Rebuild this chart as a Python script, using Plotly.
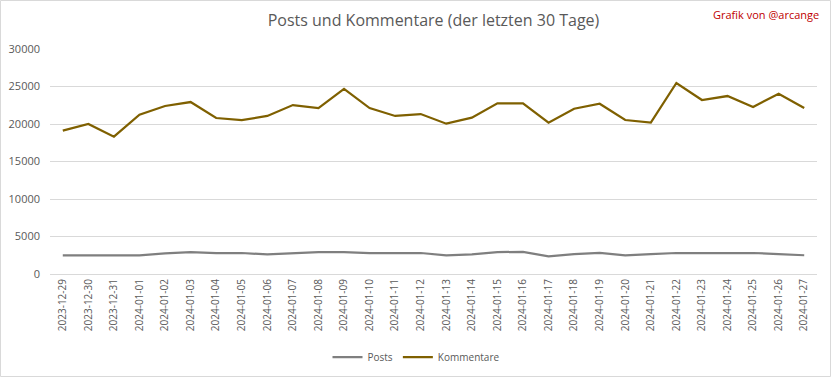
import plotly.graph_objects as go

dates = ["2023-12-29", "2023-12-30", "2023-12-31", "2024-01-01", "2024-01-02", "2024-01-03",
         "2024-01-04", "2024-01-05", "2024-01-06", "2024-01-07", "2024-01-08", "2024-01-09",
         "2024-01-10", "2024-01-11", "2024-01-12", "2024-01-13", "2024-01-14", "2024-01-15",
         "2024-01-16", "2024-01-17", "2024-01-18", "2024-01-19", "2024-01-20", "2024-01-21",
         "2024-01-22", "2024-01-23", "2024-01-24", "2024-01-25", "2024-01-26", "2024-01-27"]

posts = [2500, 2500, 2500, 2500, 2750, 2920, 2800, 2800, 2620, 2800, 2920, 2920,
         2800, 2800, 2800, 2500, 2620, 2920, 2950, 2350, 2650, 2800, 2500, 2650,
         2800, 2800, 2800, 2800, 2650, 2500]

kommentare = [19110, 20000, 18310, 21240, 22400, 22930, 20800, 20530, 21070, 22530,
              22130, 24670, 22130, 21070, 21330, 20040, 20840, 22750, 22750, 20180,
              22040, 22710, 20530, 20180, 25470, 23200, 23730, 22270, 24040, 22130]

y_ticks = [0, 5000, 10000, 15000, 20000, 25000, 30000]

FONT = "Open Sans, Liberation Sans, sans-serif"
TXT = "#595959"

W, H = 832, 378
L, R, T, B = 50, 15, 49, 104
PW, PH = W - L - R, H - T - B

fig = go.Figure()
fig.add_trace(go.Scatter(x=dates, y=posts, name="Posts", mode="lines",
                         line=dict(color="#7F7F7F", width=2.25)))
fig.add_trace(go.Scatter(x=dates, y=kommentare, name="Kommentare", mode="lines",
                         line=dict(color="#7F6000", width=2.25)))

fig.update_layout(
    width=W, height=H,
    margin=dict(l=L, r=R, t=T, b=B, autoexpand=False),
    paper_bgcolor="white", plot_bgcolor="white",
    font=dict(family=FONT, color=TXT, size=11),
    title=dict(text="Posts und Kommentare (der letzten 30 Tage)", x=0.5, xanchor="center",
               y=1 - 20 / H, yanchor="middle", xref="paper", automargin=False,
               font=dict(family=FONT, size=16, color=TXT)),
    showlegend=True,
    legend=dict(orientation="h", xref="container", x=0.5, xanchor="center",
                y=-(357 - 274) / PH, yanchor="middle",
                font=dict(size=10, color=TXT), itemwidth=30, bgcolor="rgba(0,0,0,0)"),
    xaxis=dict(type="category", range=[-0.5, len(dates) - 0.5], tickangle=-90,
               showgrid=False, showline=True, linecolor="#D9D9D9", linewidth=1,
               ticks="", automargin=False, tickfont=dict(size=10, color=TXT)),
    yaxis=dict(range=[0, 30000], tickvals=y_ticks, ticktext=[str(v) for v in y_ticks],
               showgrid=True, gridcolor="#D9D9D9", gridwidth=1, zeroline=False,
               showline=False, ticks="", ticklabelstandoff=9, automargin=False,
               tickfont=dict(size=11, color=TXT)),
    annotations=[dict(text="Grafik von @arcange", xref="paper", yref="paper",
                      x=(821 - L) / PW, y=(274 - 15) / PH, xanchor="right", yanchor="middle",
                      showarrow=False, font=dict(family=FONT, size=11, color="#C00000"))],
    shapes=[dict(type="rect", xref="paper", yref="paper",
                 x0=-(L - 0.5) / PW, x1=(W - 1.5 - L) / PW,
                 y0=-(H - 1.5 - 274) / PH, y1=(274 - 0.5) / PH,
                 line=dict(color="#D9D9D9", width=1), fillcolor="rgba(0,0,0,0)", layer="below")],
)

fig.write_html("out.html", config={"displayModeBar": False},
               post_script="document.body.style.margin='0';")
